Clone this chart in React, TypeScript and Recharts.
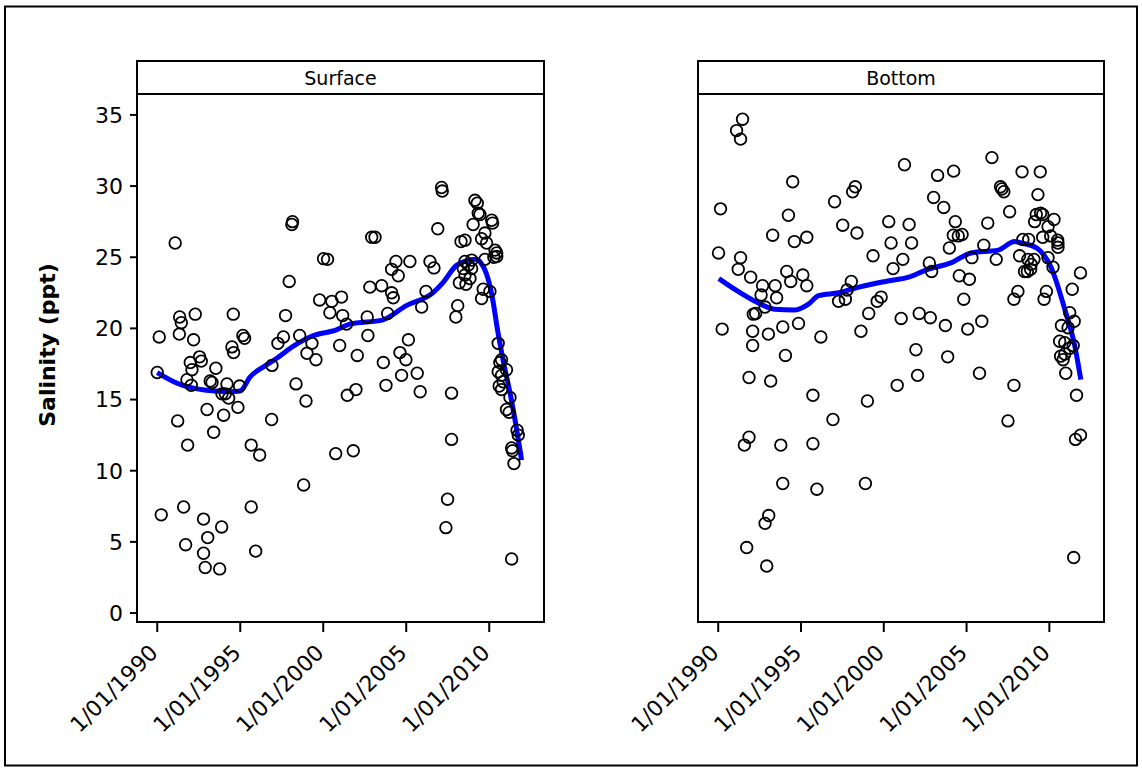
import { ComposedChart, Scatter, Line, XAxis, YAxis } from 'recharts'

// Sampling dates as decimal years, salinity in ppt
const surfaceObs: [number, number][] = [
  [1990.0, 16.9], [1990.12, 19.4], [1990.24, 6.9], [1991.08, 26.0], [1991.23, 13.5],
  [1991.33, 19.6], [1991.35, 20.8], [1991.45, 20.4], [1991.59, 7.45], [1991.71, 4.8],
  [1991.79, 16.4], [1991.83, 11.8], [1991.99, 17.6], [1992.05, 16.0], [1992.09, 17.1],
  [1992.19, 19.2], [1992.29, 21.0], [1992.55, 18.0], [1992.65, 17.7], [1992.79, 6.6],
  [1992.79, 4.2], [1992.89, 3.2], [1993.0, 14.3], [1993.04, 5.3], [1993.19, 16.3],
  [1993.3, 16.2], [1993.4, 12.7], [1993.53, 17.2], [1993.76, 3.1], [1993.88, 6.05],
  [1993.9, 15.4], [1994.0, 13.9], [1994.1, 15.4], [1994.2, 16.1], [1994.3, 15.1],
  [1994.5, 18.7], [1994.58, 21.0], [1994.6, 18.3], [1994.86, 14.45], [1994.96, 15.95],
  [1995.16, 19.5], [1995.26, 19.3], [1995.66, 11.8], [1995.66, 7.45], [1995.93, 4.35],
  [1996.17, 11.1], [1996.89, 13.6], [1996.91, 17.4], [1997.27, 18.95], [1997.6, 19.4],
  [1997.73, 20.9], [1997.95, 23.3], [1998.11, 27.3], [1998.15, 27.5], [1998.36, 16.1],
  [1998.58, 19.5], [1998.82, 9.0], [1998.96, 14.9], [1999.02, 18.25], [1999.32, 18.95],
  [1999.56, 17.8], [1999.78, 22.0], [2000.02, 24.9], [2000.26, 24.85], [2000.4, 21.1],
  [2000.52, 21.9], [2000.75, 11.2], [2000.99, 18.8], [2001.1, 22.2], [2001.17, 20.9],
  [2001.4, 20.3], [2001.45, 15.3], [2001.81, 11.4], [2001.97, 15.7], [2002.05, 18.1],
  [2002.65, 20.8], [2002.69, 19.5], [2002.81, 22.9], [2002.92, 26.4], [2003.12, 26.4],
  [2003.52, 23.0], [2003.62, 17.6], [2003.78, 16.0], [2003.88, 21.05], [2004.12, 24.15],
  [2004.12, 22.5], [2004.22, 22.15], [2004.38, 24.7], [2004.52, 23.7], [2004.62, 18.3],
  [2004.72, 16.7], [2004.98, 17.8], [2005.13, 19.2], [2005.22, 24.7], [2005.66, 16.85],
  [2005.84, 15.55], [2005.93, 21.5], [2006.19, 22.6], [2006.43, 24.7], [2006.67, 24.25],
  [2006.9, 27.0], [2007.13, 29.9], [2007.17, 29.65], [2007.39, 6.0], [2007.49, 8.0],
  [2007.73, 15.45], [2007.73, 12.2], [2007.99, 20.8], [2008.1, 21.6], [2008.2, 23.2],
  [2008.3, 26.1], [2008.44, 24.2], [2008.54, 26.2], [2008.54, 24.7], [2008.54, 23.75],
  [2008.6, 23.1], [2008.74, 24.45], [2008.84, 23.5], [2008.94, 24.8], [2008.94, 24.2],
  [2009.03, 27.3], [2009.14, 29.0], [2009.28, 28.8], [2009.34, 28.1], [2009.44, 28.0],
  [2009.54, 26.3], [2009.54, 22.1], [2009.64, 22.75], [2009.74, 26.7], [2009.74, 24.85],
  [2009.84, 26.0], [2010.04, 22.6], [2010.15, 27.6], [2010.2, 27.4], [2010.28, 25.0],
  [2010.35, 25.5], [2010.45, 25.3], [2010.45, 25.05], [2010.54, 18.95], [2010.54, 16.95],
  [2010.6, 15.95], [2010.64, 17.6], [2010.74, 17.8], [2010.74, 16.7], [2010.74, 15.7],
  [2010.84, 16.25], [2011.04, 17.1], [2011.04, 14.3], [2011.2, 14.1], [2011.25, 15.15],
  [2011.35, 11.6], [2011.35, 3.8], [2011.4, 11.4], [2011.49, 10.5], [2011.68, 12.85],
  [2011.75, 12.5],
]

const bottomObs: [number, number][] = [
  [1990.02, 25.3], [1990.14, 28.4], [1990.24, 19.95], [1991.11, 33.9], [1991.21, 24.15],
  [1991.35, 33.3], [1991.35, 24.97], [1991.47, 34.7], [1991.58, 11.8], [1991.72, 4.6],
  [1991.86, 16.55], [1991.86, 12.35], [1991.96, 23.6], [1992.08, 19.8], [1992.08, 18.8],
  [1992.12, 21.0], [1992.26, 21.05], [1992.59, 22.35], [1992.68, 23.0], [1992.83, 21.5],
  [1992.83, 6.3], [1992.93, 3.3], [1993.03, 19.6], [1993.05, 6.85], [1993.17, 16.3],
  [1993.29, 26.55], [1993.44, 23.0], [1993.53, 22.15], [1993.78, 11.8], [1993.9, 20.1],
  [1993.9, 9.1], [1994.06, 18.1], [1994.14, 24.0], [1994.24, 27.95], [1994.38, 23.3],
  [1994.5, 30.3], [1994.6, 26.1], [1994.85, 20.35], [1995.11, 23.75], [1995.35, 26.4],
  [1995.35, 23.0], [1995.72, 15.3], [1995.72, 11.9], [1995.96, 8.7], [1996.2, 19.4],
  [1996.93, 13.6], [1997.03, 28.9], [1997.27, 21.9], [1997.52, 27.25], [1997.68, 22.05],
  [1997.78, 22.7], [1998.04, 23.3], [1998.12, 29.6], [1998.28, 29.95], [1998.38, 26.7],
  [1998.62, 19.8], [1998.89, 9.1], [1999.01, 14.9], [1999.09, 21.05], [1999.35, 25.1],
  [1999.6, 21.9], [1999.84, 22.2], [2000.3, 27.5], [2000.44, 26.0], [2000.56, 24.2],
  [2000.81, 16.0], [2001.05, 20.7], [2001.15, 24.85], [2001.25, 31.5], [2001.53, 27.3],
  [2001.68, 26.0], [2001.94, 18.5], [2002.04, 16.7], [2002.14, 21.05], [2002.75, 24.6],
  [2002.81, 20.75], [2002.89, 24.0], [2003.01, 29.2], [2003.25, 30.75], [2003.62, 28.5],
  [2003.72, 20.2], [2003.86, 18.0], [2003.96, 25.65], [2004.2, 26.55], [2004.22, 31.05],
  [2004.32, 27.5], [2004.5, 26.5], [2004.56, 23.7], [2004.73, 26.6], [2004.83, 22.05],
  [2005.07, 19.95], [2005.17, 23.45], [2005.32, 24.97], [2005.78, 16.85], [2005.92, 20.5],
  [2006.04, 25.85], [2006.28, 27.4], [2006.53, 32.0], [2006.79, 24.85], [2007.05, 29.95],
  [2007.13, 29.8], [2007.25, 29.6], [2007.5, 13.5], [2007.6, 28.2], [2007.86, 22.05],
  [2007.86, 16.0], [2008.1, 22.6], [2008.2, 25.1], [2008.35, 31.0], [2008.4, 26.25],
  [2008.5, 24.0], [2008.67, 24.0], [2008.7, 24.85], [2008.75, 26.25], [2008.87, 24.15],
  [2008.9, 24.5], [2009.07, 24.85], [2009.11, 27.5], [2009.21, 28.0], [2009.31, 29.4],
  [2009.45, 31.0], [2009.47, 28.1], [2009.6, 28.0], [2009.6, 26.4], [2009.68, 22.05],
  [2009.82, 22.6], [2009.92, 27.15], [2009.92, 24.97], [2010.08, 26.5], [2010.22, 24.3],
  [2010.28, 27.65], [2010.5, 26.2], [2010.52, 26.0], [2010.52, 25.7], [2010.62, 19.1],
  [2010.68, 18.05], [2010.73, 20.2], [2010.83, 17.8], [2010.93, 19.0], [2010.93, 18.2],
  [2010.99, 16.85], [2011.13, 20.05], [2011.23, 21.1], [2011.23, 18.6], [2011.38, 22.75],
  [2011.44, 18.8], [2011.47, 3.9], [2011.5, 20.5], [2011.58, 12.2], [2011.64, 15.3],
  [2011.88, 23.9], [2011.88, 12.5],
]

// Smoothed trend (loess) through each series
const surfaceTrend: [number, number][] = [
  [1990.0, 16.9], [1991.2, 16.15], [1992.4, 15.75], [1993.5, 15.6], [1994.4, 15.55],
  [1995.0, 15.6], [1995.6, 16.6], [1996.4, 17.3], [1997.2, 17.9], [1998.2, 18.75],
  [1999.3, 19.45], [2000.8, 19.9], [2001.6, 20.3], [2003.6, 20.6], [2005.0, 21.6],
  [2006.6, 22.5], [2007.2, 23.2], [2008.0, 24.4], [2008.6, 24.75], [2009.2, 24.85],
  [2009.5, 24.6], [2009.9, 23.6], [2010.2, 22.1], [2010.5, 19.9], [2010.9, 17.4],
  [2011.3, 15.2], [2011.55, 13.6], [2011.95, 10.75],
]

const bottomTrend: [number, number][] = [
  [1990.04, 23.5], [1991.2, 22.6], [1992.4, 21.8], [1993.4, 21.35], [1994.65, 21.3],
  [1995.45, 21.7], [1996.06, 22.3], [1997.27, 22.5], [1998.5, 22.9], [2000.1, 23.3],
  [2001.5, 23.6], [2002.65, 24.15], [2004.05, 24.6], [2005.27, 25.3], [2006.9, 25.5],
  [2007.9, 26.1], [2008.3, 26.0], [2009.3, 25.6], [2009.7, 25.1], [2010.1, 24.3],
  [2010.3, 23.7], [2010.93, 21.35], [2011.53, 18.8], [2011.9, 16.4],
]

const tickYears = [1990, 1995, 2000, 2005, 2010]
const salinityTicks = [0, 5, 10, 15, 20, 25, 30, 35]
const panelTitles = ['Surface', 'Bottom']

const FONT = "'DejaVu Sans', sans-serif"
const X_DOMAIN: [number, number] = [1988.78, 2013.3]
const Y_DOMAIN: [number, number] = [-0.63, 36.47]

const toRows = (pairs: [number, number][]) => pairs.map(([t, v]) => ({ t, v }))

const OpenCircle = (props: any) => (
  <circle cx={props.cx} cy={props.cy} r={5.8} fill="none" stroke="#000" strokeWidth={1.8} />
)

const DateTick = ({ x, y, payload }: any) => (
  <text
    x={x + 2}
    y={y + 22}
    transform={`rotate(-45, ${x + 2}, ${y + 22})`}
    textAnchor="end"
    fontFamily={FONT}
    fontSize={22}
    fill="#000"
  >
    {`1/01/${payload.value}`}
  </text>
)

function Panel({ obs, trend, showY }: { obs: [number, number][]; trend: [number, number][]; showY: boolean }) {
  const width = showY ? 560 : 582
  const margin = showY
    ? { top: 94, right: 16, bottom: 27, left: 77 }
    : { top: 94, right: 38, bottom: 27, left: 138 }
  return (
    <ComposedChart width={width} height={769} margin={margin}>
      <XAxis
        type="number"
        dataKey="t"
        domain={X_DOMAIN}
        ticks={tickYears}
        allowDataOverflow
        height={120}
        tickSize={10}
        tickMargin={0}
        stroke="#000"
        strokeWidth={2}
        tick={<DateTick />}
        interval={0}
      />
      <YAxis
        type="number"
        dataKey="v"
        domain={Y_DOMAIN}
        ticks={salinityTicks}
        allowDataOverflow
        hide={!showY}
        width={60}
        tickSize={7}
        tickMargin={7}
        stroke="#000"
        strokeWidth={2}
        tick={{ fontFamily: FONT, fontSize: 22, fill: '#000' }}
        interval={0}
      />
      <Scatter data={toRows(obs)} dataKey="v" shape={OpenCircle} isAnimationActive={false} />
      <Line
        data={toRows(trend)}
        dataKey="v"
        type="monotone"
        stroke="#0000ff"
        strokeWidth={5}
        dot={false}
        activeDot={false}
        isAnimationActive={false}
      />
    </ComposedChart>
  )
}

export default function App() {
  const frames = [137, 698]
  return (
    <div style={{ position: 'absolute', left: 0, top: 0, width: 1142, height: 769, background: '#fff' }}>
      <div style={{ position: 'absolute', left: 0, top: 0 }}>
        <Panel obs={surfaceObs} trend={surfaceTrend} showY />
      </div>
      <div style={{ position: 'absolute', left: 560, top: 0 }}>
        <Panel obs={bottomObs} trend={bottomTrend} showY={false} />
      </div>
      <svg width={1142} height={769} style={{ position: 'absolute', left: 0, top: 0, pointerEvents: 'none' }}>
        <rect x={5} y={6.5} width={1132} height={759} fill="none" stroke="#000" strokeWidth={2} />
        {frames.map((x, i) => (
          <g key={i}>
            <rect x={x} y={94} width={x === 137 ? 407 : 406} height={528} fill="none" stroke="#000" strokeWidth={2} />
            <rect x={x} y={61} width={x === 137 ? 407 : 406} height={33} fill="#fff" stroke="#000" strokeWidth={2} />
            <text
              x={x + (x === 137 ? 203.5 : 203)}
              y={85}
              textAnchor="middle"
              fontFamily={FONT}
              fontSize={19}
              fill="#000"
            >
              {panelTitles[i]}
            </text>
          </g>
        ))}
        <text
          x={55}
          y={345}
          transform="rotate(-90, 55, 345)"
          textAnchor="middle"
          fontFamily={FONT}
          fontSize={22}
          fontWeight="bold"
          fill="#000"
        >
          Salinity (ppt)
        </text>
      </svg>
    </div>
  )
}
